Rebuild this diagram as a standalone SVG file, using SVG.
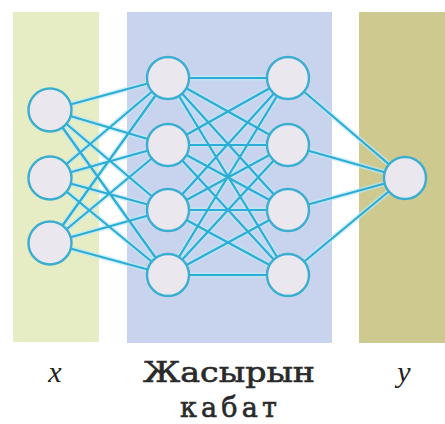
<svg xmlns="http://www.w3.org/2000/svg" width="445" height="424" viewBox="0 0 445 424">
  <style>
    .band { stroke: none; }
    .glow { stroke: #bdeaf7; stroke-width: 5; stroke-opacity: 0.7; fill: none; }
    .edge { stroke: #2badd6; stroke-width: 2.2; fill: none; }
    .node circle { fill: #ebe7ee; stroke: #3aaed0; stroke-width: 2.4; }
    .var { font-family: "Liberation Serif", "DejaVu Serif", serif; font-style: italic; font-size: 30px; fill: #222; }
    .cap { font-family: "DejaVu Serif", "Liberation Serif", serif; font-size: 27px; fill: #2a2a2a; stroke: #2a2a2a; stroke-width: 0.6; }
  </style>

  <rect width="445" height="424" fill="#ffffff"/>

  <!-- layer backgrounds -->
  <rect class="band" x="13" y="12" width="86" height="330" fill="#e6ecc3"/>
  <rect class="band" x="127" y="12" width="205" height="331" fill="#c8d4ee"/>
  <rect class="band" x="359" y="12" width="86" height="331" fill="#cdc98f"/>

  <!-- connectors -->
  <g id="edges">
    <g class="glow">
      <path d="M50 110L168 78M50 110L168 145M50 110L168 210M50 110L168 275M50 178L168 78M50 178L168 145M50 178L168 210M50 178L168 275M50 243L168 78M50 243L168 145M50 243L168 210M50 243L168 275"/>
      <path d="M168 78L288 78M168 78L288 145M168 78L288 210M168 78L288 275M168 145L288 78M168 145L288 145M168 145L288 210M168 145L288 275M168 210L288 78M168 210L288 145M168 210L288 210M168 210L288 275M168 275L288 78M168 275L288 145M168 275L288 210M168 275L288 275"/>
      <path d="M288 78L405 178M288 145L405 178M288 210L405 178M288 275L405 178"/>
    </g>
    <g class="edge">
      <path d="M50 110L168 78M50 110L168 145M50 110L168 210M50 110L168 275M50 178L168 78M50 178L168 145M50 178L168 210M50 178L168 275M50 243L168 78M50 243L168 145M50 243L168 210M50 243L168 275"/>
      <path d="M168 78L288 78M168 78L288 145M168 78L288 210M168 78L288 275M168 145L288 78M168 145L288 145M168 145L288 210M168 145L288 275M168 210L288 78M168 210L288 145M168 210L288 210M168 210L288 275M168 275L288 78M168 275L288 145M168 275L288 210M168 275L288 275"/>
      <path d="M288 78L405 178M288 145L405 178M288 210L405 178M288 275L405 178"/>
    </g>
  </g>

  <!-- input layer -->
  <g id="in1" class="node"><circle cx="50" cy="110" r="21.5"/></g>
  <g id="in2" class="node"><circle cx="50" cy="178" r="21.5"/></g>
  <g id="in3" class="node"><circle cx="50" cy="243" r="21.5"/></g>

  <!-- hidden layer 1 -->
  <g id="h1a" class="node"><circle cx="168" cy="78" r="21"/></g>
  <g id="h1b" class="node"><circle cx="168" cy="145" r="21"/></g>
  <g id="h1c" class="node"><circle cx="168" cy="210" r="21"/></g>
  <g id="h1d" class="node"><circle cx="168" cy="275" r="21"/></g>

  <!-- hidden layer 2 -->
  <g id="h2a" class="node"><circle cx="288" cy="78" r="21"/></g>
  <g id="h2b" class="node"><circle cx="288" cy="145" r="21"/></g>
  <g id="h2c" class="node"><circle cx="288" cy="210" r="21"/></g>
  <g id="h2d" class="node"><circle cx="288" cy="275" r="21"/></g>

  <!-- output -->
  <g id="out" class="node"><circle cx="405" cy="178" r="21"/></g>

  <!-- labels -->
  <text class="var" x="55" y="382" text-anchor="middle">x</text>
  <text class="cap" x="143" y="382" textLength="172" lengthAdjust="spacingAndGlyphs">Жасырын</text>
  <text class="cap" x="180" y="417" textLength="97" lengthAdjust="spacing">кабат</text>
  <text class="var" x="404" y="382" text-anchor="middle">y</text>
</svg>
